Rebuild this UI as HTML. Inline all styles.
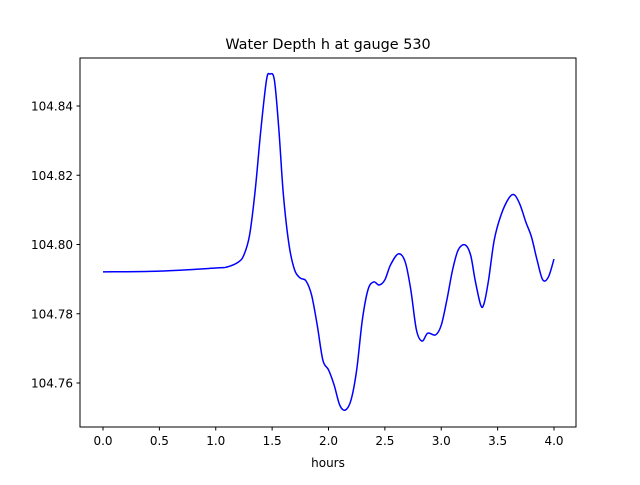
<!DOCTYPE html>
<html><head><meta charset="utf-8"><style>
body{margin:0;background:#fff;}
svg text{font-family:"DejaVu Sans","Liberation Sans",sans-serif;}
</style></head><body>
<svg id="chart" width="640" height="480" viewBox="0 0 640 480">
<rect width="640" height="480" fill="#fff"/>
<text x="328" y="49" text-anchor="middle" font-size="14.4">Water Depth h at gauge 530</text>
<g id="xt"></g>
<g id="yt"></g>
<path id="line" fill="none" stroke="#0000ff" stroke-width="1.5" stroke-linejoin="round"/>
<rect x="80" y="58" width="496" height="369" fill="none" stroke="#000" stroke-width="1"/>
<text x="328" y="467" text-anchor="middle" font-size="12">hours</text>
</svg>
<script>
const hours=[0,0.5,1.0,1.1,1.2,1.25,1.3,1.35,1.4,1.45,1.48,1.52,1.56,1.6,1.65,1.7,1.75,1.8,1.85,1.9,1.95,2.0,2.05,2.1,2.15,2.2,2.25,2.3,2.35,2.4,2.45,2.5,2.55,2.62,2.68,2.73,2.78,2.83,2.88,2.95,3.0,3.05,3.1,3.15,3.21,3.26,3.3,3.35,3.38,3.42,3.47,3.53,3.6,3.65,3.7,3.75,3.8,3.85,3.9,3.95,4.0];
const depth=[104.7921,104.7923,104.7932,104.7935,104.7949,104.797,104.8027,104.8157,104.8331,104.8475,104.8492,104.8475,104.8331,104.8143,104.7999,104.7926,104.7903,104.7895,104.7854,104.7767,104.7666,104.7638,104.7594,104.7536,104.7522,104.7551,104.7638,104.7782,104.7869,104.7892,104.7883,104.7898,104.7941,104.7973,104.795,104.7869,104.7753,104.7721,104.7744,104.7739,104.7767,104.784,104.7926,104.7984,104.7999,104.797,104.7898,104.7825,104.783,104.7898,104.8013,104.8085,104.8134,104.8143,104.8114,104.8065,104.8022,104.7955,104.7898,104.7906,104.7958];
const xTicks=[0,0.5,1.0,1.5,2.0,2.5,3.0,3.5,4.0];
const xTickLabels=["0.0","0.5","1.0","1.5","2.0","2.5","3.0","3.5","4.0"];
const yTicks=[104.76,104.78,104.80,104.82,104.84];
const yTickLabels=["104.76","104.78","104.80","104.82","104.84"];
const X=v=>103+v*112.75;
const Y=v=>106+(104.84-v)*3462.5;
const NS="http://www.w3.org/2000/svg";
function mk(tag,attrs,parent){const e=document.createElementNS(NS,tag);for(const k in attrs)e.setAttribute(k,attrs[k]);parent.appendChild(e);return e;}
const xt=document.getElementById('xt'),yt=document.getElementById('yt');
xTicks.forEach((t,i)=>{
  const l=mk('line',{x1:X(t),x2:X(t),y1:427,y2:430.5,stroke:'#000'},xt);
  
  
  const tx=mk('text',{x:X(t),y:445,'text-anchor':'middle','font-size':'12'},xt);
  tx.textContent=xTickLabels[i];
  
  
});
yTicks.forEach((t,i)=>{
  const l=mk('line',{x1:76.5,x2:80,y1:Y(t),y2:Y(t),stroke:'#000'},yt);
  
  
  const tx=mk('text',{x:73,y:Y(t)+4.5,'text-anchor':'end','font-size':'12'},yt);
  tx.textContent=yTickLabels[i];
  
  
});
// Catmull-Rom smoothing through data points
const P=hours.map((h,i)=>[X(h),Y(depth[i])]);
let d='M'+P[0][0]+','+P[0][1];
for(let i=0;i<P.length-1;i++){
  const p0=P[i-1]||P[i],p1=P[i],p2=P[i+1],p3=P[i+2]||P[i+1];
  const c1=[p1[0]+(p2[0]-p0[0])/6,p1[1]+(p2[1]-p0[1])/6];
  const c2=[p2[0]-(p3[0]-p1[0])/6,p2[1]-(p3[1]-p1[1])/6];
  d+=' C'+c1+' '+c2+' '+p2;
}
document.getElementById('line').setAttribute('d',d);
</script>
</body></html>
